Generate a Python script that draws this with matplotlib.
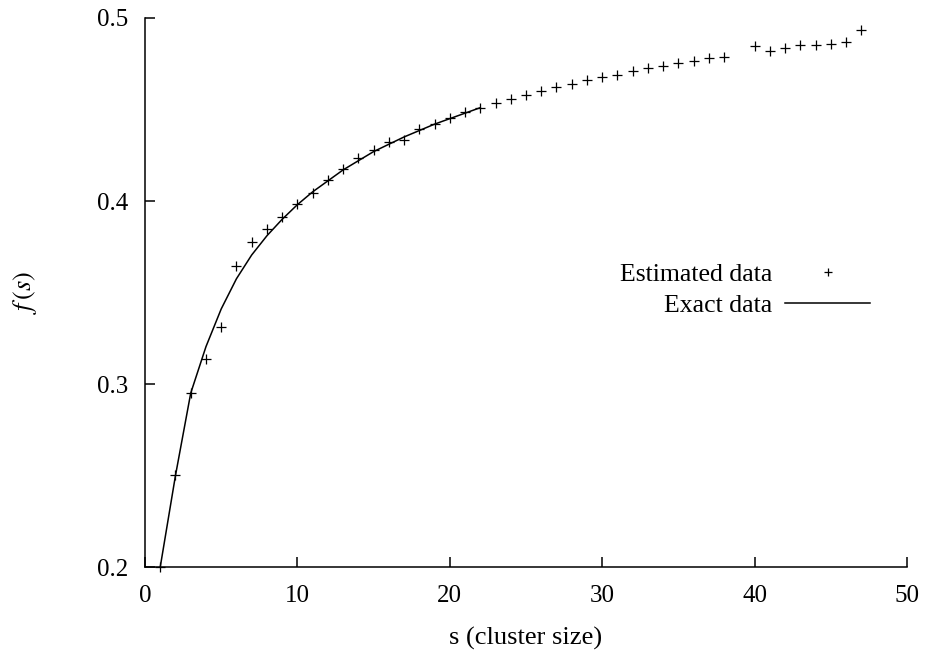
import matplotlib
matplotlib.use('Agg')
from matplotlib import pyplot as plt

plt.rcParams['font.family'] = ['Liberation Serif', 'DejaVu Serif']
plt.rcParams['mathtext.fontset'] = 'stix'
plt.rcParams['font.size'] = 18

# estimated points, s = 1..47 (no point at 39)
est_s = list(range(1, 39)) + list(range(40, 48))
est_f = [0.200, 0.2503, 0.2953, 0.3138, 0.3313, 0.3645, 0.3778, 0.3845, 0.3914, 0.3984,
         0.4046, 0.4115, 0.4175, 0.4237, 0.4281, 0.4321, 0.4332, 0.4393, 0.4422, 0.4455,
         0.4485, 0.4510, 0.4534, 0.4557, 0.4579, 0.4603, 0.4621, 0.4639, 0.4659, 0.4676,
         0.4689, 0.4710, 0.4725, 0.4736, 0.4752, 0.4763, 0.4780, 0.4789,
         0.4847, 0.4821, 0.4834, 0.4851, 0.4851, 0.4856, 0.4871, 0.4933]

# exact curve, s = 1..22
exact_s = list(range(1, 23))
exact_f = [0.200, 0.250, 0.295, 0.3204, 0.341, 0.3575, 0.3705, 0.381, 0.390, 0.398,
           0.405, 0.411, 0.417, 0.422, 0.427, 0.431, 0.435, 0.4385, 0.442, 0.445,
           0.448, 0.451]

fig = plt.figure(figsize=(9.27, 6.53), dpi=100)
ax = fig.add_axes([145/927, 1-567/653, 762/927, 549/653])

ax.plot(est_s, est_f, linestyle='none', marker='+', markersize=7, markeredgewidth=0.9,
        color='black', label='Estimated data', clip_on=False)
ax.plot(exact_s, exact_f, color='black', linewidth=1.1, label='Exact data')

ax.set_xlim(0, 50)
ax.set_ylim(0.2, 0.5)
ax.set_xticks([0, 10, 20, 30, 40, 50])
ax.set_yticks([0.2, 0.3, 0.4, 0.5])
ax.set_yticklabels(['0.2', '0.3', '0.4', '0.5'])
ax.spines['top'].set_visible(False)
ax.spines['right'].set_visible(False)
for sp in ('left', 'bottom'):
    ax.spines[sp].set_linewidth(1.1)
ax.tick_params(direction='in', length=7, width=1.1, labelsize=18)
ax.tick_params(axis='x', pad=13)
ax.tick_params(axis='y', pad=12)

ax.set_xlabel('s (cluster size)', fontsize=19, labelpad=14)
ax.set_ylabel(r'$f\,(s)$', fontsize=19, labelpad=42)

leg = ax.legend(loc='center right', bbox_to_anchor=(870/927, 1-290/653),
                bbox_transform=fig.transFigure, frameon=False, markerfirst=False,
                handlelength=3.3, handletextpad=0.5, labelspacing=0.3, borderpad=0,
                borderaxespad=0, fontsize=18.5)
leg.legend_handles[0].set_markersize(6)

fig.savefig('out.png', dpi=100)
